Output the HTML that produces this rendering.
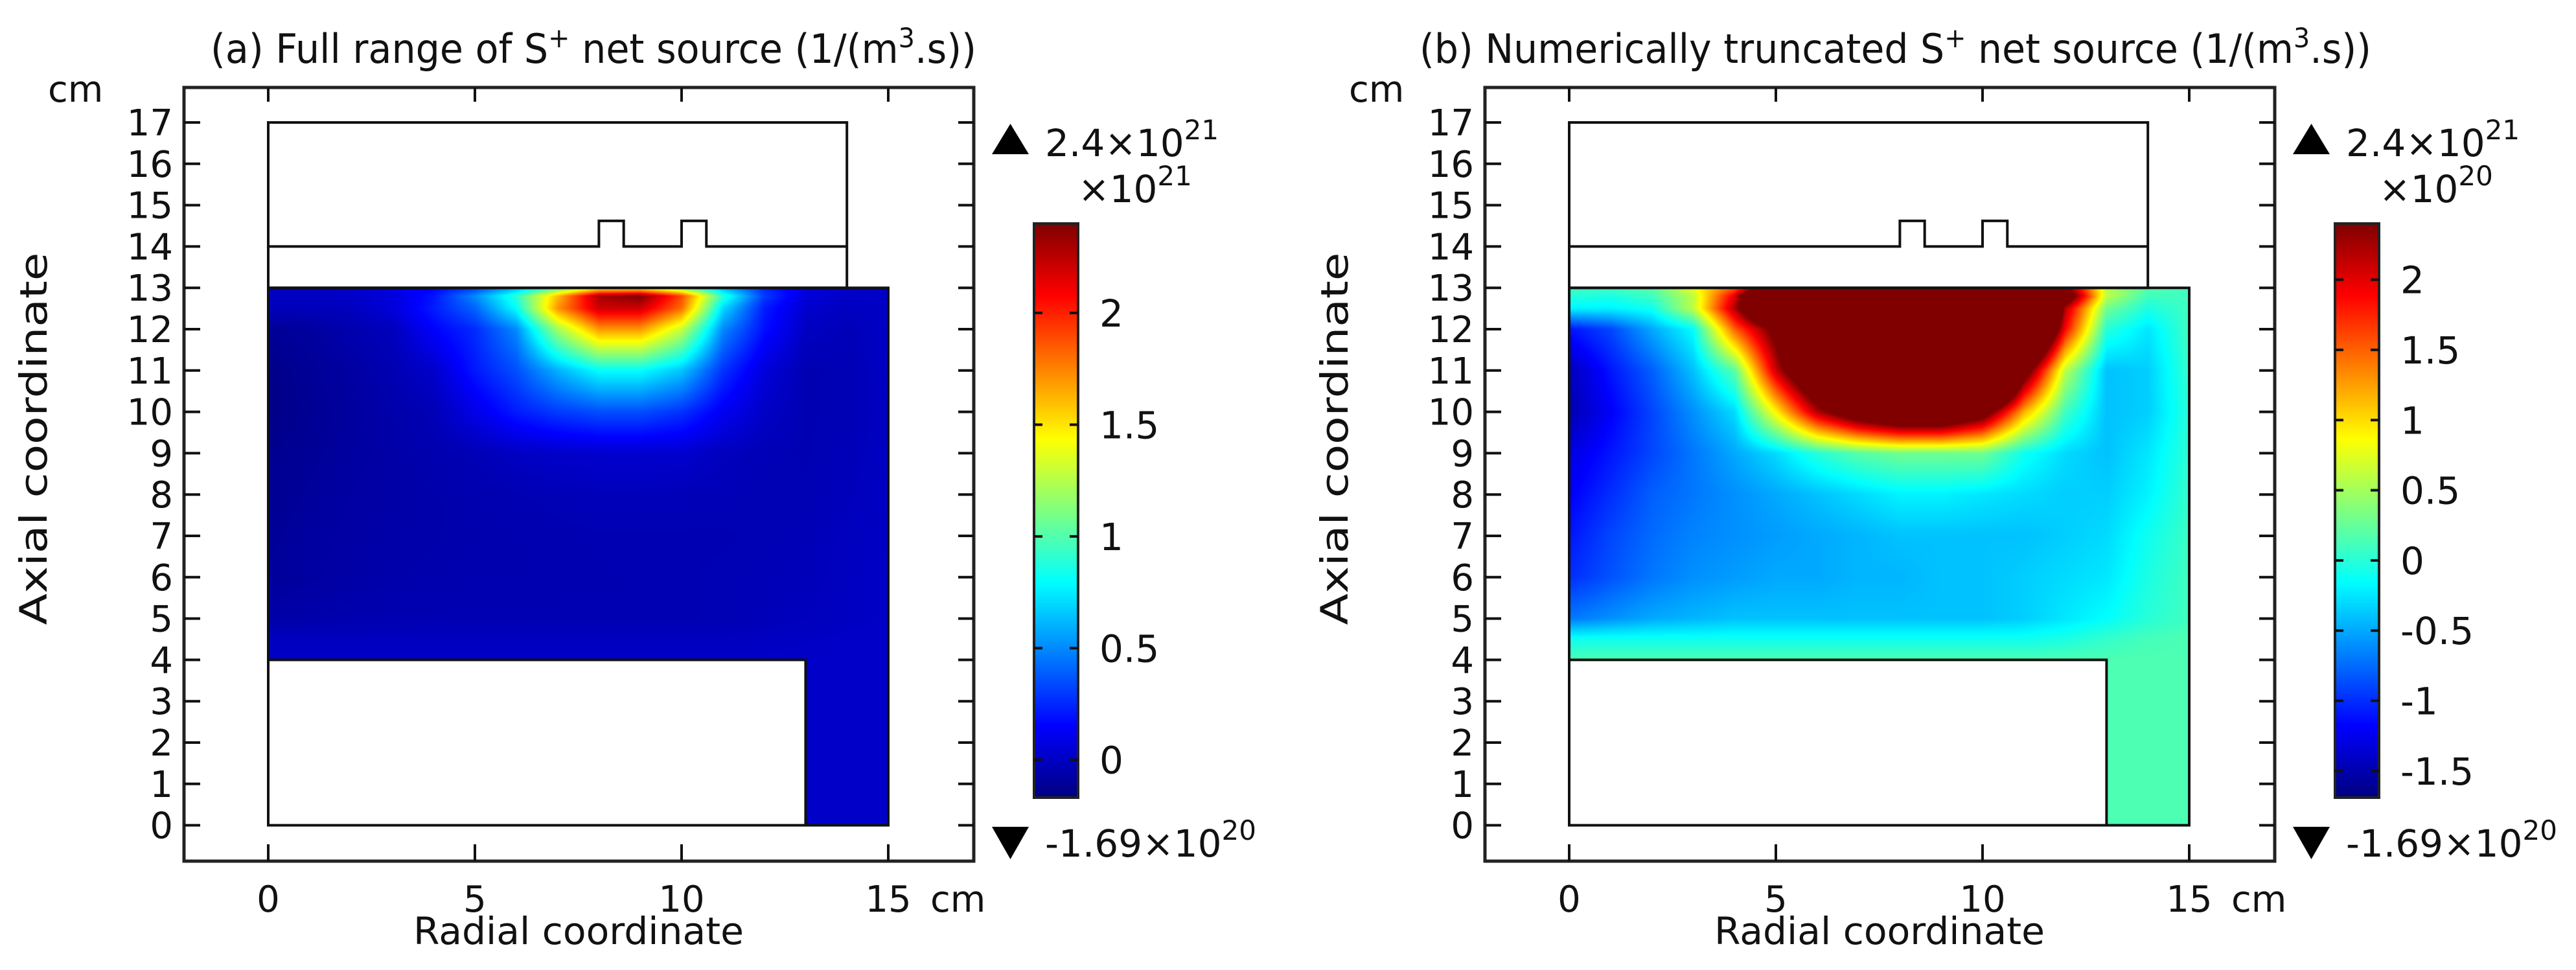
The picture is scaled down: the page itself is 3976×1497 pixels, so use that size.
<!DOCTYPE html>
<html><head><meta charset="utf-8">
<style>
html,body{margin:0;padding:0;background:#fff;}
#wrap{position:relative;width:3976px;height:1497px;overflow:hidden;background:#fff;}
canvas{position:absolute;}
svg{position:absolute;left:0;top:0;}
text{font-family:"DejaVu Sans","Liberation Sans",sans-serif;fill:#111;}
</style></head>
<body>
<div id="wrap">
<canvas id="heatA"></canvas>
<canvas id="heatB"></canvas>
<canvas id="cbarA"></canvas>
<canvas id="cbarB"></canvas>
<svg id="ov" width="3976" height="1497"></svg>
</div>
<script>
// ---- data (S+ net source, units of 1e20 1/(m^3 s)) ----
const rGrid = [0,1,2,3,4,5,6,7,8,9,10,11,12,13,14,15];
const zGrid = [0,4,4.5,5,6,7,8,9,10,11,12,12.5,12.8,13];
const rowZ0   = [0.15,0.15,0.15,0.15,0.15,0.15,0.15,0.15,0.15,0.15,0.15,0.15,0.15,0.15,0.15,0.15];
const rowZ4   = [0.15,0.15,0.15,0.15,0.15,0.15,0.15,0.15,0.15,0.15,0.15,0.15,0.15,0.15,0.15,0.15];
const rowZ4p5 = [-0.1,-0.1,-0.1,-0.1,-0.1,-0.1,-0.1,-0.1,-0.1,-0.1,-0.1,-0.1,-0.05,0.05,0.12,0.15];
const rowZ5   = [-0.7,-0.6,-0.5,-0.45,-0.4,-0.4,-0.4,-0.4,-0.4,-0.4,-0.4,-0.35,-0.25,-0.15,0,0.1];
const rowZ6   = [-1.0,-0.85,-0.7,-0.6,-0.55,-0.5,-0.5,-0.45,-0.45,-0.4,-0.4,-0.35,-0.3,-0.25,-0.05,0.1];
const rowZ7   = [-1.1,-0.9,-0.75,-0.65,-0.6,-0.55,-0.5,-0.45,-0.4,-0.4,-0.4,-0.4,-0.35,-0.3,-0.1,0.08];
const rowZ8   = [-1.2,-1.0,-0.8,-0.7,-0.6,-0.5,-0.4,-0.3,-0.2,-0.2,-0.25,-0.3,-0.35,-0.35,-0.2,0.05];
const rowZ9   = [-1.3,-1.1,-0.9,-0.7,-0.5,-0.3,0,0.2,0.3,0.3,0.3,-0.1,-0.3,-0.4,-0.25,0.02];
const rowZ10  = [-1.5,-1.2,-0.9,-0.6,-0.3,0.9,2.2,3.0,3.5,3.5,2.8,1.2,0.1,-0.4,-0.35,0];
const rowZ11  = [-1.45,-1.1,-0.8,-0.4,0.2,2.1,3.5,6,8,8,6.5,2.8,0.6,-0.4,-0.35,0.05];
const rowZ12  = [-1.1,-0.9,-0.5,-0.15,1.5,2.6,5,12,17,17,13,5,1.9,0.0,-0.25,0.1];
const rowZ12p5= [-0.2,-0.2,-0.1,0.6,2.2,4,8,17,22,22,18,7,2.2,0.3,-0.05,0.1];
const rowZ12p8= [0,-0.05,0.1,0.6,2.0,5,9,16,23,24,19,9,3,0.6,0.1,0.1];
const rowZ13  = [0.1,0.1,0.2,0.8,1.5,3,6,10,14,14,11,6,2.5,0.6,0.2,0.1];
const fieldRows = [rowZ0,rowZ4,rowZ4p5,rowZ5,rowZ6,rowZ7,rowZ8,rowZ9,rowZ10,rowZ11,rowZ12,rowZ12p5,rowZ12p8,rowZ13];
// colour ranges (units 1e20)
const rangeA = [-1.69, 24];
const rangeB = [-1.69, 2.4];
// colorbar ticks
const cbTicksA = [0,0.5,1,1.5,2];          // x1e21
const cbTicksB = [-1.5,-1,-0.5,0,0.5,1,1.5,2]; // x1e20
const yTicks = [0,1,2,3,4,5,6,7,8,9,10,11,12,13,14,15,16,17];
const xTicks = [0,5,10,15];

// ---- axes ----
const PX = 63.8;
function xPix(r, dx){ return dx + 414 + PX*r; }
function yPix(z){ return 1273.6 - PX*z; }
function jet(t){
  t=Math.max(0,Math.min(1,t));
  const c=v=>Math.round(255*Math.max(0,Math.min(1,v)));
  return [c(1.5-Math.abs(4*t-3)), c(1.5-Math.abs(4*t-2)), c(1.5-Math.abs(4*t-1))];
}
function locate(arr, v){
  let i=0; while(i<arr.length-2 && v>arr[i+1]) i++;
  const f=(v-arr[i])/(arr[i+1]-arr[i]);
  return [i, Math.max(0,Math.min(1,f))];
}
function field(r,z){
  const [i,fr]=locate(rGrid,r), [j,fz]=locate(zGrid,z);
  const a=fieldRows[j][i], b=fieldRows[j][i+1], c=fieldRows[j+1][i], d=fieldRows[j+1][i+1];
  return (a*(1-fr)+b*fr)*(1-fz)+(c*(1-fr)+d*fr)*fz;
}
function drawHeat(id, dx, range){
  const cv=document.getElementById(id);
  const x0=Math.round(xPix(0,dx)), y0=Math.round(yPix(13));
  const w=Math.round(15*PX), h=Math.round(13*PX);
  cv.width=w; cv.height=h; cv.style.left=x0+'px'; cv.style.top=y0+'px';
  const ctx=cv.getContext('2d'); const img=ctx.createImageData(w,h);
  for(let py=0;py<h;py++){
    const z=13-(py+0.5)/PX;
    for(let px=0;px<w;px++){
      const r=(px+0.5)/PX; const k=(py*w+px)*4;
      if(z<4 && r<13){ img.data[k]=255;img.data[k+1]=255;img.data[k+2]=255;img.data[k+3]=255; continue; }
      const v=field(r,z); const col=jet((v-range[0])/(range[1]-range[0]));
      img.data[k]=col[0];img.data[k+1]=col[1];img.data[k+2]=col[2];img.data[k+3]=255;
    }
  }
  ctx.putImageData(img,0,0);
}
drawHeat('heatA',0,rangeA);
drawHeat('heatB',2008,rangeB);

const CB_TOP=345, CB_BOT=1231;
function drawCbar(id, dx){
  const cv=document.getElementById(id);
  const w=68, h=CB_BOT-CB_TOP;
  cv.width=w; cv.height=h; cv.style.left=(1596+dx)+'px'; cv.style.top=CB_TOP+'px';
  const ctx=cv.getContext('2d');
  for(let y=0;y<h;y++){ const c=jet(1-(y+0.5)/h); ctx.fillStyle='rgb('+c+')'; ctx.fillRect(0,y,w,1); }
}
drawCbar('cbarA',0); drawCbar('cbarB',2008);

const NS='http://www.w3.org/2000/svg';
const svg=document.getElementById('ov');
function mk(tag, attrs, parent){
  const e=document.createElementNS(NS,tag);
  for(const k in attrs) e.setAttribute(k,attrs[k]);
  (parent||svg).appendChild(e); return e;
}
function line(x1,y1,x2,y2,w,g){ return mk('line',{x1:x1,y1:y1,x2:x2,y2:y2,stroke:'#111','stroke-width':w},g); }

function panel(dx, key, titleMain, titleX, titleLen, cbTicks, cbMin, cbMax, cbExp){
  const g=mk('g',{});
  
  
  const fr=mk('rect',{x:284+dx,y:135,width:1219,height:1194,fill:'none',stroke:'#222','stroke-width':5},g);
  
  
  yTicks.forEach(v=>{
    const y=yPix(v);
    line(284+dx,y,309+dx,y,4,g); line(1479+dx,y,1503+dx,y,4,g);
    const t=mk('text',{x:267+dx,y:y+20,'text-anchor':'end','font-size':56},g);
    
    
    t.textContent=v;
  });
  xTicks.forEach(v=>{
    const x=xPix(v,dx);
    line(x,135,x,157,4,g); line(x,1303,x,1329,4,g);
    const t=mk('text',{x:x,y:1407,'text-anchor':'middle','font-size':56},g);
    
    
    t.textContent=v;
  });
  let t=mk('text',{x:74+dx,y:157,'font-size':56},g); t.textContent='cm';
  
  
  t=mk('text',{x:1436+dx,y:1407,'font-size':56},g); t.textContent='cm';
  
  
  t=mk('text',{x:893+dx,y:1457,'text-anchor':'middle','font-size':58,textLength:510,lengthAdjust:'spacingAndGlyphs'},g);
  t.textContent='Radial coordinate';
  
  
  t=mk('text',{'text-anchor':'middle','font-size':58,transform:'translate('+(72+dx)+',677) rotate(-90)',textLength:575,lengthAdjust:'spacingAndGlyphs'},g);
  t.textContent='Axial coordinate';
  
  
  t=mk('text',{x:titleX,y:97,'font-size':62},g);
  
  
  const s1=mk('tspan',{},t); s1.textContent=titleMain+' S';
  const s2=mk('tspan',{dy:-24,'font-size':42},t); s2.textContent='+';
  const s3=mk('tspan',{dy:24},t); s3.textContent=' net source (1/(m';
  const s4=mk('tspan',{dy:-24,'font-size':42},t); s4.textContent='3';
  const s5=mk('tspan',{dy:24},t); s5.textContent='.s))';
  t.setAttribute('textLength',titleLen); t.setAttribute('lengthAdjust','spacingAndGlyphs');
  const geo=mk('g',{fill:'none',stroke:'#111','stroke-width':4},g);
  
  
  const P=(r,z)=>xPix(r,dx)+','+yPix(z);
  mk('polygon',{points:[P(0,0),P(15,0),P(15,13),P(0,13)].join(' ')},geo);
  mk('polyline',{points:[P(0,4),P(13,4),P(13,0)].join(' ')},geo);
  mk('polygon',{points:[P(0,13),P(14,13),P(14,17),P(0,17)].join(' ')},geo);
  mk('polyline',{points:[P(0,14),P(8.0,14),P(8.0,14.62),P(8.6,14.62),P(8.6,14),P(10.0,14),P(10.0,14.62),P(10.6,14.62),P(10.6,14),P(14,14)].join(' ')},geo);
  const cbx=1596+dx;
  const cf=mk('rect',{x:cbx,y:CB_TOP,width:68,height:CB_BOT-CB_TOP,fill:'none',stroke:'#222','stroke-width':4},g);
  
  
  cbTicks.forEach(v=>{
    const y=CB_BOT-(v-cbMin)/(cbMax-cbMin)*(CB_BOT-CB_TOP);
    line(cbx,y,cbx+13,y,4,g); line(cbx+55,y,cbx+68,y,4,g);
    const tl=mk('text',{x:1697+dx,y:y+21,'font-size':58},g);
    
    
    tl.textContent=v;
  });
  t=mk('text',{x:1664+dx,y:312,'font-size':58},g);
  
  
  let a=mk('tspan',{},t); a.textContent='×10';
  a=mk('tspan',{dy:-26,'font-size':42},t); a.textContent=cbExp;
  const up=mk('polygon',{points:(1531+dx)+',238 '+(1588+dx)+',238 '+(1559.5+dx)+',191',fill:'#000'},g);
  
  
  t=mk('text',{x:1613+dx,y:241,'font-size':58},g);
  
  
  a=mk('tspan',{},t); a.textContent='2.4×10';
  a=mk('tspan',{dy:-26,'font-size':42},t); a.textContent='21';
  const dn=mk('polygon',{points:(1531+dx)+',1276 '+(1588+dx)+',1276 '+(1559.5+dx)+',1326',fill:'#000'},g);
  
  
  t=mk('text',{x:1613+dx,y:1322,'font-size':58},g);
  
  
  a=mk('tspan',{},t); a.textContent='-1.69×10';
  a=mk('tspan',{dy:-26,'font-size':42},t); a.textContent='20';
}
panel(0,'a','(a) Full range of',325,1182,cbTicksA,-0.169,2.4,'21');
panel(2008,'b','(b) Numerically truncated',2191,1469,cbTicksB,-1.69,2.4,'20');
</script>
</body></html>
